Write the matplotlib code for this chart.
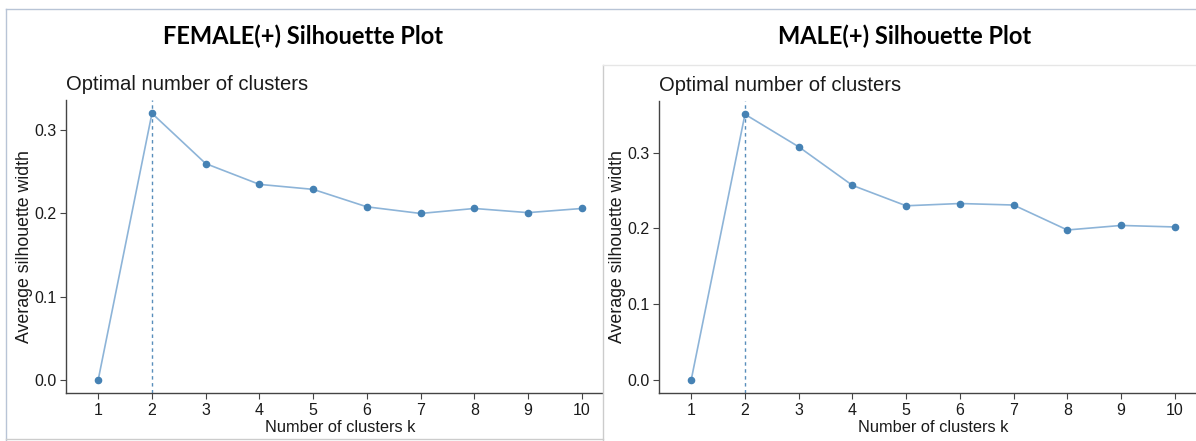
import numpy as np
import matplotlib
matplotlib.use('Agg')
import matplotlib.pyplot as plt
from matplotlib.lines import Line2D

k = list(range(1, 11))
female_sil = [0.0, 0.3205, 0.260, 0.235, 0.229, 0.208, 0.200, 0.206, 0.201, 0.206]
male_sil = [0.0, 0.351, 0.308, 0.257, 0.230, 0.233, 0.231, 0.198, 0.204, 0.202]
yticks = [0.0, 0.1, 0.2, 0.3]
titles = ['FEMALE(+) Silhouette Plot', 'MALE(+) Silhouette Plot']

W, H = 1196, 441
LINE = '#8db4d8'
PT = '#4682b4'
plt.rcParams['font.family'] = ['Liberation Sans', 'DejaVu Sans']

fig = plt.figure(figsize=(W / 100, H / 100), dpi=100)


def px_axes(x0, y0, x1, y1):
    return fig.add_axes([x0 / W, 1 - y1 / H, (x1 - x0) / W, (y1 - y0) / H])


def panel(ax, vals):
    best = int(np.argmax(vals)) + 1
    ax.axvline(best, color=PT, ls=(0, (2.5, 2.5)), lw=1.0, alpha=0.9, zorder=1)
    ax.plot(k, vals, color=LINE, lw=1.2, zorder=2)
    ax.scatter(k, vals, color=PT, s=20, zorder=3)
    span = max(vals) - min(vals)
    ax.set_ylim(min(vals) - 0.05 * span, max(vals) + 0.05 * span)
    ax.set_xlim(0.4, 10.6)
    ax.set_xticks(k)
    ax.set_yticks(yticks)
    ax.set_yticklabels([f'{t:.1f}' for t in yticks])
    for s in ['top', 'right']:
        ax.spines[s].set_visible(False)
    for s in ['left', 'bottom']:
        ax.spines[s].set_color('#444444')
        ax.spines[s].set_linewidth(1.0)
    ax.tick_params(labelsize=11.5, length=4, color='#444444', labelcolor='#1a1a1a', pad=3)
    ax.set_xlabel('Number of clusters k', fontsize=11.8, color='#1a1a1a', labelpad=2)
    ax.set_ylabel('Average silhouette width', fontsize=12.8, color='#1a1a1a', labelpad=1)
    ax.set_title('Optimal number of clusters', loc='left', fontsize=14.6,
                 color='#1a1a1a', pad=7)


ax1 = px_axes(66, 100, 614, 393)
panel(ax1, female_sil)
# white background of right panel covers overflow of the left axis
fig.patches.append(plt.Rectangle((603 / W, 0), 1, 1 - 65 / H, transform=fig.transFigure,
                                 facecolor='white', edgecolor='none', zorder=0.5))
ax2 = px_axes(659, 101, 1207, 393)
panel(ax2, male_sil)
ax1.set_zorder(0)
ax2.set_zorder(1)
ax2.patch.set_alpha(0)


# screenshot frame lines
def fline(xs, ys, color='#b8c4d6', lw=1.0):
    fig.add_artist(Line2D([x / W for x in xs], [1 - y / H for y in ys],
                          transform=fig.transFigure, color=color, lw=lw))


fline([6, 1196], [9, 9])
fline([6, 6], [9, 441])
fline([6, 603], [439, 439], color='#cccccc')
fline([603, 603], [65, 441], color='#cccccc')
fline([603, 1196], [65, 65], color='#e6e6e6')

fig.text(303 / W, 1 - 36 / H, titles[0], ha='center', va='center',
         fontsize=17, fontweight='bold', family=['Lato', 'DejaVu Sans'])
fig.text(905 / W, 1 - 36 / H, titles[1], ha='center', va='center',
         fontsize=17, fontweight='bold', family=['Lato', 'DejaVu Sans'])

fig.savefig('out.png', dpi=100)
